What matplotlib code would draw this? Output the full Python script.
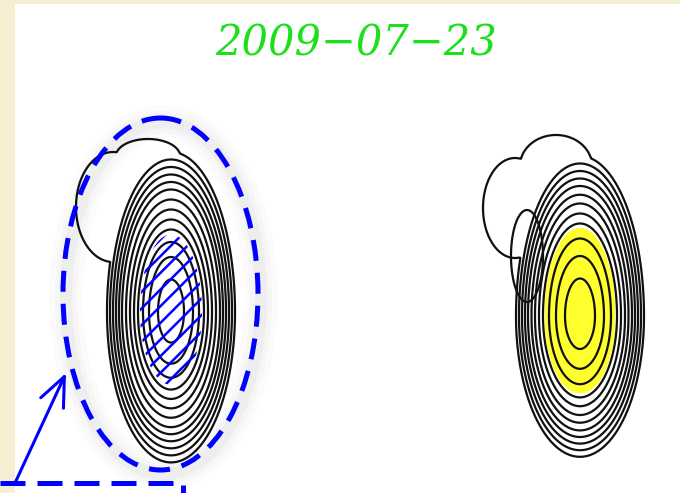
import numpy as np
import matplotlib
matplotlib.use("Agg")
import matplotlib.pyplot as plt
from matplotlib.patches import Ellipse, Rectangle

# --- picture parameters (pixel space of the 680x493 frame) ---
title = "2009\u221207\u221223"

# left source: centre x, centre y, stretch above centre, stretch below centre
left_src = [171, 312, 2.5, 2.35]
left_rings = [13, 22, 28, 33, 37, 41, 45, 49, 52, 55, 58, 61]
left_outer = 64
# extra lobes of the outermost contour: cx, cy, rx, ry
left_lobes = [[113, 207, 37, 55], [148, 156, 32, 17]]
left_hatch = 31

right_src = [580, 316, 2.5, 2.2]
right_rings = [15, 24, 31, 37, 41, 45, 48.5, 52, 55, 58, 61]
right_outer = 64
right_lobes = [[515, 208, 32, 50], [556, 166, 36, 31]]
right_oval = [527, 256, 16, 46]
right_fill = 35

# dashed ring and pointer
ring = [160.5, 294, 195, 352]
arrow_from = (15, 483)
arrow_to = (66, 373)
box_x = [0, 183, 183]
box_y = [483, 483, 500]


def egg_dist(X, Y, src):
    cx, cy, up, down = src
    sy = np.where(Y < cy, up, down)
    return np.sqrt((X - cx) ** 2 + ((Y - cy) / sy) ** 2)


def lobe_dist(X, Y, lobe):
    cx, cy, rx, ry = lobe
    return np.sqrt(((X - cx) / rx) ** 2 + ((Y - cy) / ry) ** 2)


fig = plt.figure(figsize=(6.8, 4.93), dpi=100, facecolor="#f6eed2")
ax = fig.add_axes([0, 0, 1, 1])
ax.set_xlim(0, 680)
ax.set_ylim(493, 0)
ax.axis("off")
ax.add_patch(Rectangle((15, 4), 670, 495, facecolor="white", edgecolor="none", zorder=0))

xs = np.arange(0, 681, 1.0)
ys = np.arange(0, 494, 1.0)
X, Y = np.meshgrid(xs, ys)

plt.rcParams["hatch.color"] = "blue"
plt.rcParams["hatch.linewidth"] = 1.8

line_kw = dict(colors="#111111", linewidths=1.6)

# left blob
dl = egg_dist(X, Y, left_src)
ax.contourf(X, Y, dl, levels=[0, left_hatch], colors="none", hatches=["//"], zorder=3)
ax.contour(X, Y, dl, levels=left_rings, zorder=2, **line_kw)
outer_l = dl / left_outer
for lb in left_lobes:
    outer_l = np.minimum(outer_l, lobe_dist(X, Y, lb))
ax.contour(X, Y, outer_l, levels=[1.0], zorder=2, **line_kw)

# right blob
dr = egg_dist(X, Y, right_src)
ax.contourf(X, Y, dr, levels=[0, right_fill], colors=["#ffff2e"], zorder=1)
ax.contour(X, Y, dr, levels=right_rings, zorder=2, **line_kw)
outer_r = dr / right_outer
for lb in right_lobes:
    outer_r = np.minimum(outer_r, lobe_dist(X, Y, lb))
ax.contour(X, Y, outer_r, levels=[1.0], zorder=2, **line_kw)
ax.contour(X, Y, lobe_dist(X, Y, right_oval), levels=[1.0], zorder=2, **line_kw)

# soft shadow under the dashed ring
for lw, a in [(24, 0.015), (16, 0.02), (9, 0.03)]:
    ax.add_patch(Ellipse((ring[0] + 3, ring[1] + 4), ring[2], ring[3], fill=False,
                         edgecolor="black", lw=lw, alpha=a, zorder=4))
ax.add_patch(Ellipse((ring[0], ring[1]), ring[2], ring[3], fill=False,
                     edgecolor="blue", lw=3.6, linestyle=(0, (4.2, 2.4)), zorder=5))

# pointer arrow and dashed box edge
ax.annotate("", xy=arrow_to, xytext=arrow_from,
            arrowprops=dict(arrowstyle="->,head_length=2.1,head_width=0.9",
                            color="blue", lw=2.2, mutation_scale=10,
                            shrinkA=0, shrinkB=0), zorder=6)
ax.plot(box_x, box_y, color="blue", lw=3.6, linestyle=(0, (5, 2.4)),
        solid_capstyle="butt", zorder=6)

ax.text(356, 43, title, color="#1de01d", fontsize=30, fontstyle="italic",
        family="DejaVu Serif", ha="center", va="center", zorder=6)

fig.savefig("out.png", dpi=100, facecolor=fig.get_facecolor())
